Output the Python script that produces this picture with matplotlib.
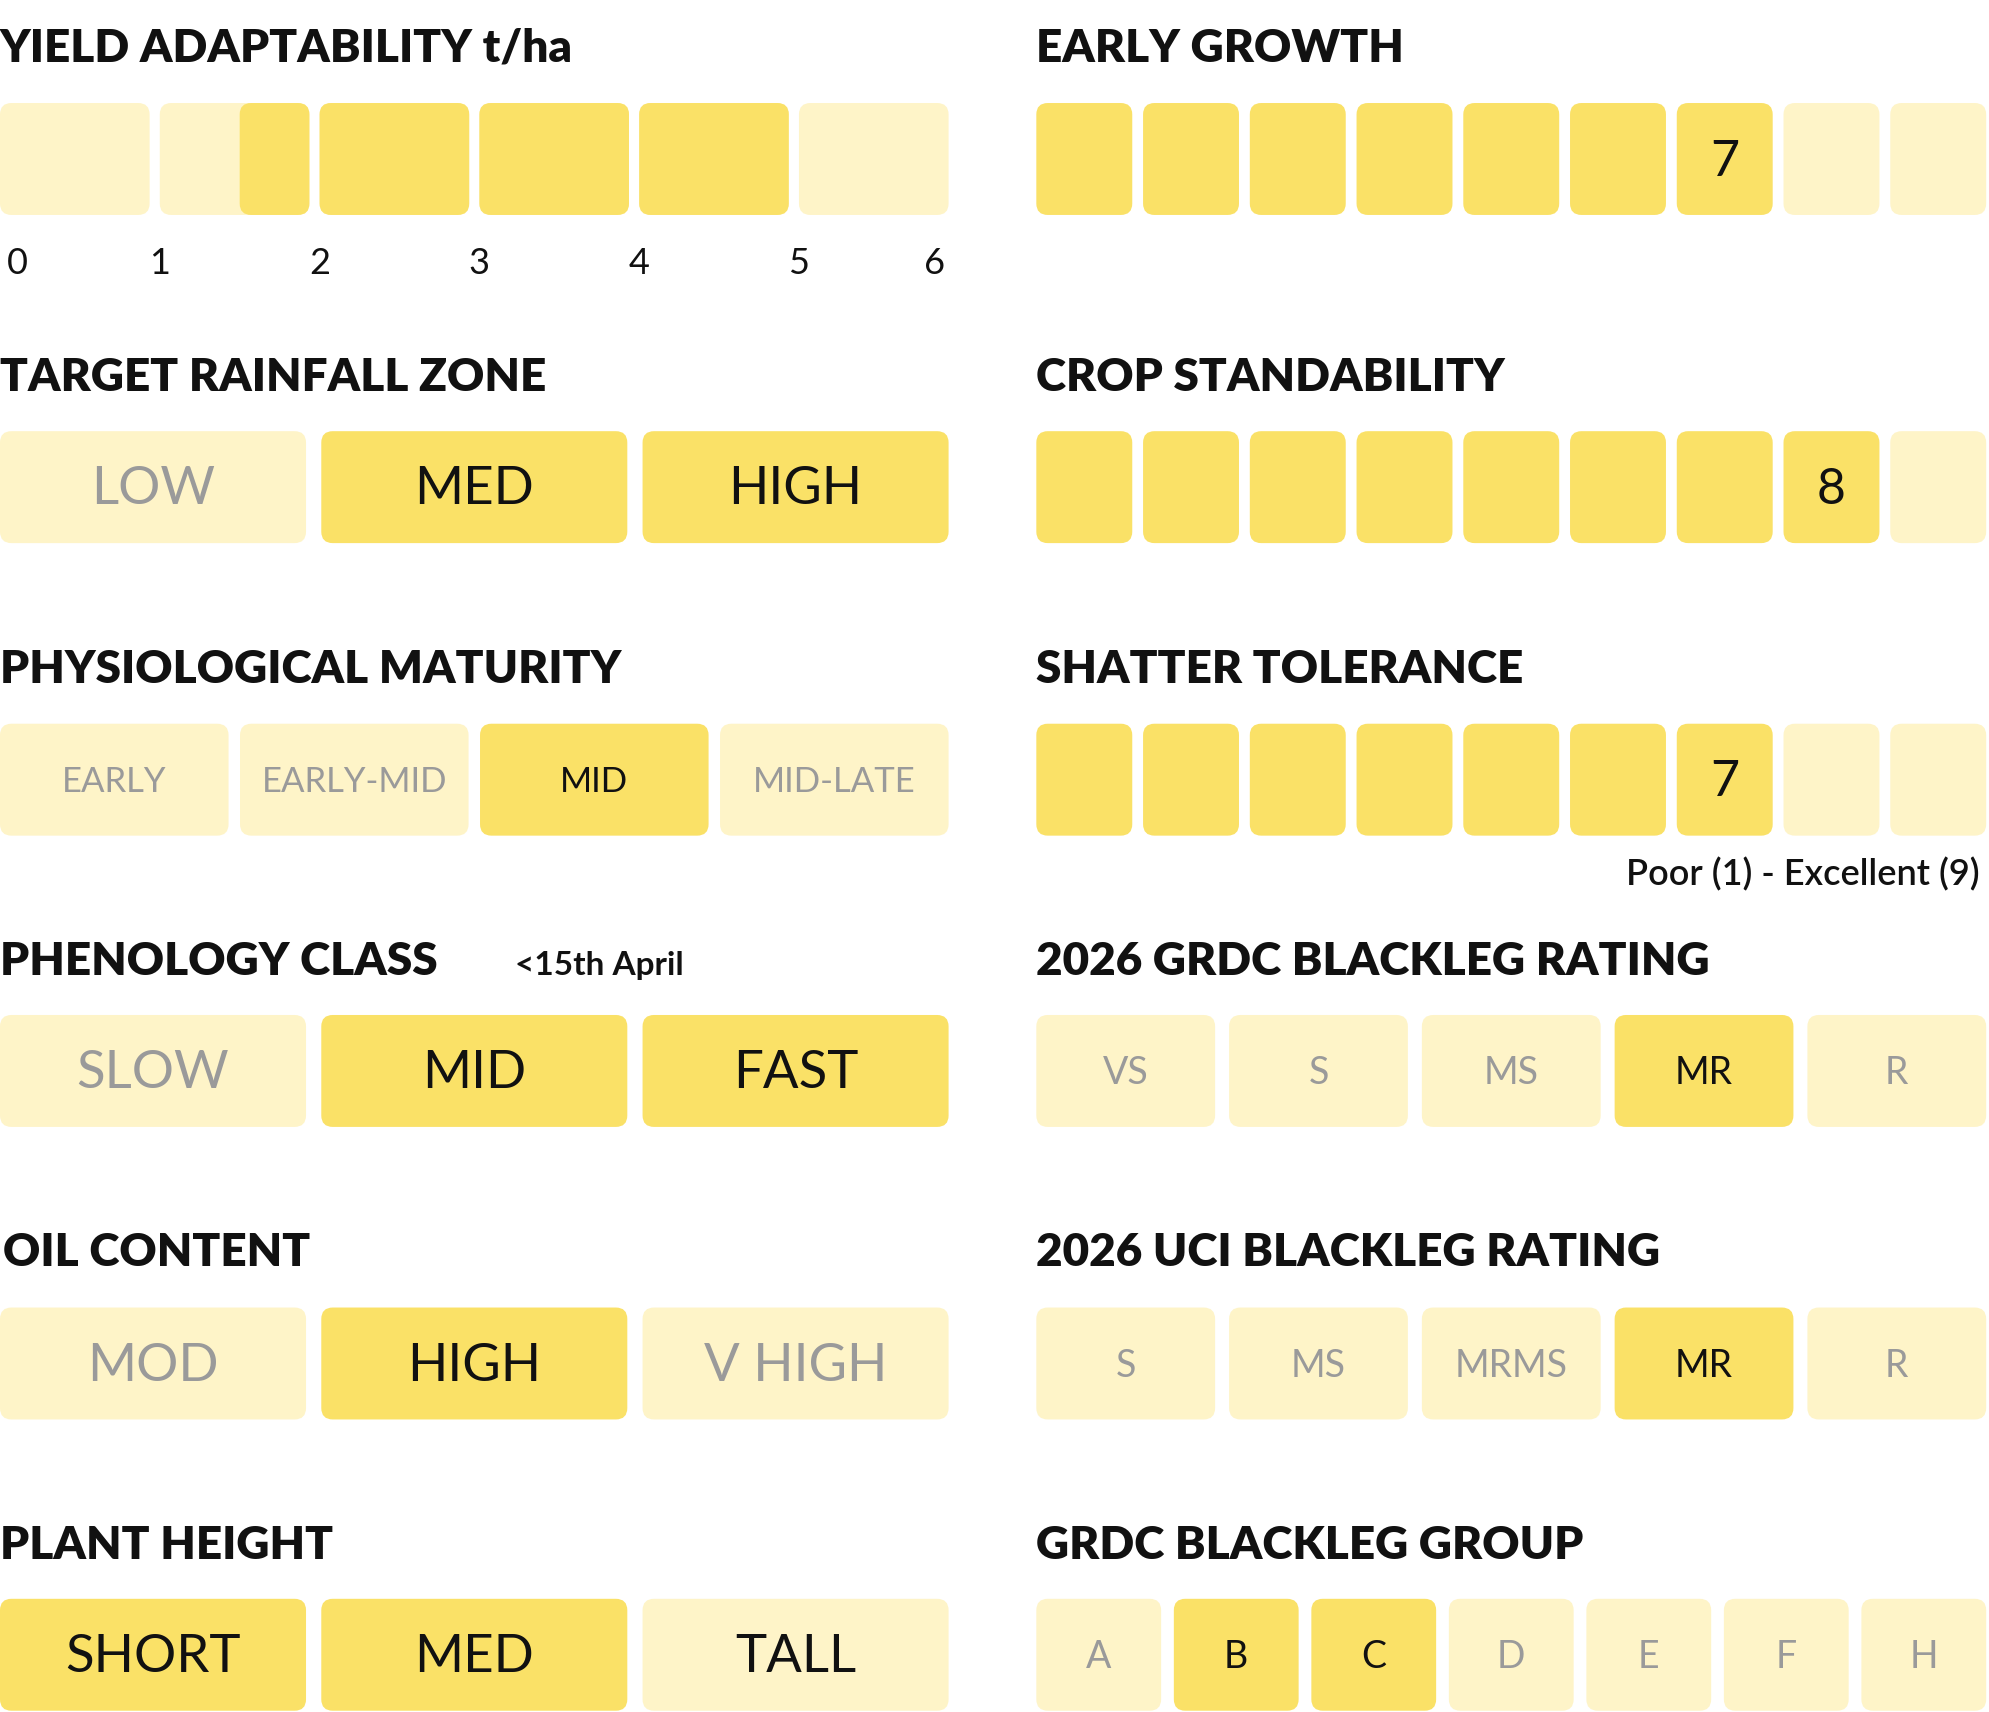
import matplotlib.pyplot as plt
from matplotlib.patches import FancyBboxPatch

DARK = '#FAE167'
LIGHT = '#FEF4C8'
GREY = '#9A9A9A'
BLACK = '#111111'

# ---- data ----
yield_ticks = [0, 1, 2, 3, 4, 5, 6]
yield_range = (1.5, 5.0)

rainfall_labels = ['LOW', 'MED', 'HIGH']
rainfall_on = [0, 1, 1]
maturity_labels = ['EARLY', 'EARLY-MID', 'MID', 'MID-LATE']
maturity_on = [0, 0, 1, 0]
phenology_labels = ['SLOW', 'MID', 'FAST']
phenology_on = [0, 1, 1]
oil_labels = ['MOD', 'HIGH', 'V HIGH']
oil_on = [0, 1, 0]
height_labels = ['SHORT', 'MED', 'TALL']
height_on = [1, 1, 0]
height_black = [1, 1, 1]

early_growth = 7
standability = 8
shatter = 7

grdc_labels = ['VS', 'S', 'MS', 'MR', 'R']
grdc_on = [0, 0, 0, 1, 0]
uci_labels = ['S', 'MS', 'MRMS', 'MR', 'R']
uci_on = [0, 0, 0, 1, 0]
group_labels = ['A', 'B', 'C', 'D', 'E', 'F', 'H']
group_on = [0, 1, 1, 0, 0, 0, 0]

W, H = 1565, 1346
fig = plt.figure(figsize=(19.9, 17.12), dpi=100)
ax = fig.add_axes([0, 0, 1, 1])
ax.set_xlim(0, W)
ax.set_ylim(H, 0)
ax.axis('off')

TITLE = dict(fontfamily='Lato', fontweight='heavy', fontsize=33, va='center', ha='left', color=BLACK)


def box(x0, x1, y0, y1, color):
    ax.add_patch(FancyBboxPatch((x0, y0), x1 - x0, y1 - y0,
                                boxstyle='round,pad=0,rounding_size=9',
                                fc=color, ec='none', mutation_aspect=1))


def row(x0, x1, y0, labels, on, gap, size, black=None):
    n = len(labels)
    w = (x1 - x0 - gap * (n - 1)) / n
    for i, lab in enumerate(labels):
        bx = x0 + i * (w + gap)
        box(bx, bx + w, y0, y0 + 88, DARK if on[i] else LIGHT)
        dark_txt = on[i] or (black is not None and black[i])
        ax.text(bx + w / 2, y0 + 46, lab, ha='center', va='center', fontfamily='Lato',
                fontsize=size, color=BLACK if dark_txt else GREY)


def scale(x0, x1, y0, value):
    labels = [''] * 9
    labels[value - 1] = str(value)
    row(x0, x1, y0, labels, [1 if i < value else 0 for i in range(9)], 8.5, 36)


L0, L1 = 0, 746
R0, R1 = 815, 1562
tops = [81, 339, 569, 798, 1028, 1257]
title_y = [38, 297, 526, 756, 985, 1215]

# yield adaptability
ax.text(0, title_y[0], 'YIELD ADAPTABILITY t/ha', **TITLE)
step = (L1 - L0 + 8) / 6
for i in range(6):
    bx = L0 + i * step
    box(bx, bx + step - 8, tops[0], tops[0] + 88, LIGHT)
    lo = max(bx, L0 + yield_range[0] * step)
    hi = min(bx + step - 8, L0 + yield_range[1] * step - 8)
    if hi > lo:
        box(lo, hi, tops[0], tops[0] + 88, DARK)
for t in yield_ticks:
    ax.text(min(max(t * step, 14), 735), 207, str(t), ha='center', va='center',
            fontfamily='Lato', fontsize=26, color=BLACK)

ax.text(0, title_y[1], 'TARGET RAINFALL ZONE', **TITLE)
row(L0, L1, tops[1], rainfall_labels, rainfall_on, 12, 38)
ax.text(0, title_y[2], 'PHYSIOLOGICAL MATURITY', **TITLE)
row(L0, L1, tops[2], maturity_labels, maturity_on, 9, 25)
t = ax.text(0, title_y[3], 'PHENOLOGY CLASS', **TITLE)
ax.text(405, title_y[3] + 3, '<15th April', fontfamily='Lato', fontweight='bold',
        fontsize=24, va='center', ha='left', color=BLACK)
row(L0, L1, tops[3], phenology_labels, phenology_on, 12, 38)
ax.text(2, title_y[4], 'OIL CONTENT', **TITLE)
row(L0, L1, tops[4], oil_labels, oil_on, 12, 38)
ax.text(0, title_y[5], 'PLANT HEIGHT', **TITLE)
row(L0, L1, tops[5], height_labels, height_on, 12, 38, black=height_black)

ax.text(R0, title_y[0], 'EARLY GROWTH', **TITLE)
scale(R0, R1, tops[0], early_growth)
ax.text(R0, title_y[1], 'CROP STANDABILITY', **TITLE)
scale(R0, R1, tops[1], standability)
ax.text(R0, title_y[2], 'SHATTER TOLERANCE', **TITLE)
scale(R0, R1, tops[2], shatter)
ax.text(1557, 687, 'Poor (1) - Excellent (9)', ha='right', va='center',
        fontfamily='Lato', fontweight='semibold', fontsize=26, color=BLACK)
ax.text(R0, title_y[3], '2026 GRDC BLACKLEG RATING', **TITLE)
row(R0, R1, tops[3], grdc_labels, grdc_on, 11, 27)
ax.text(R0, title_y[4], '2026 UCI BLACKLEG RATING', **TITLE)
row(R0, R1, tops[4], uci_labels, uci_on, 11, 27)
ax.text(R0, title_y[5], 'GRDC BLACKLEG GROUP', **TITLE)
row(R0, R1, tops[5], group_labels, group_on, 10, 27)

fig.savefig('out.png', dpi=100, facecolor='white')
